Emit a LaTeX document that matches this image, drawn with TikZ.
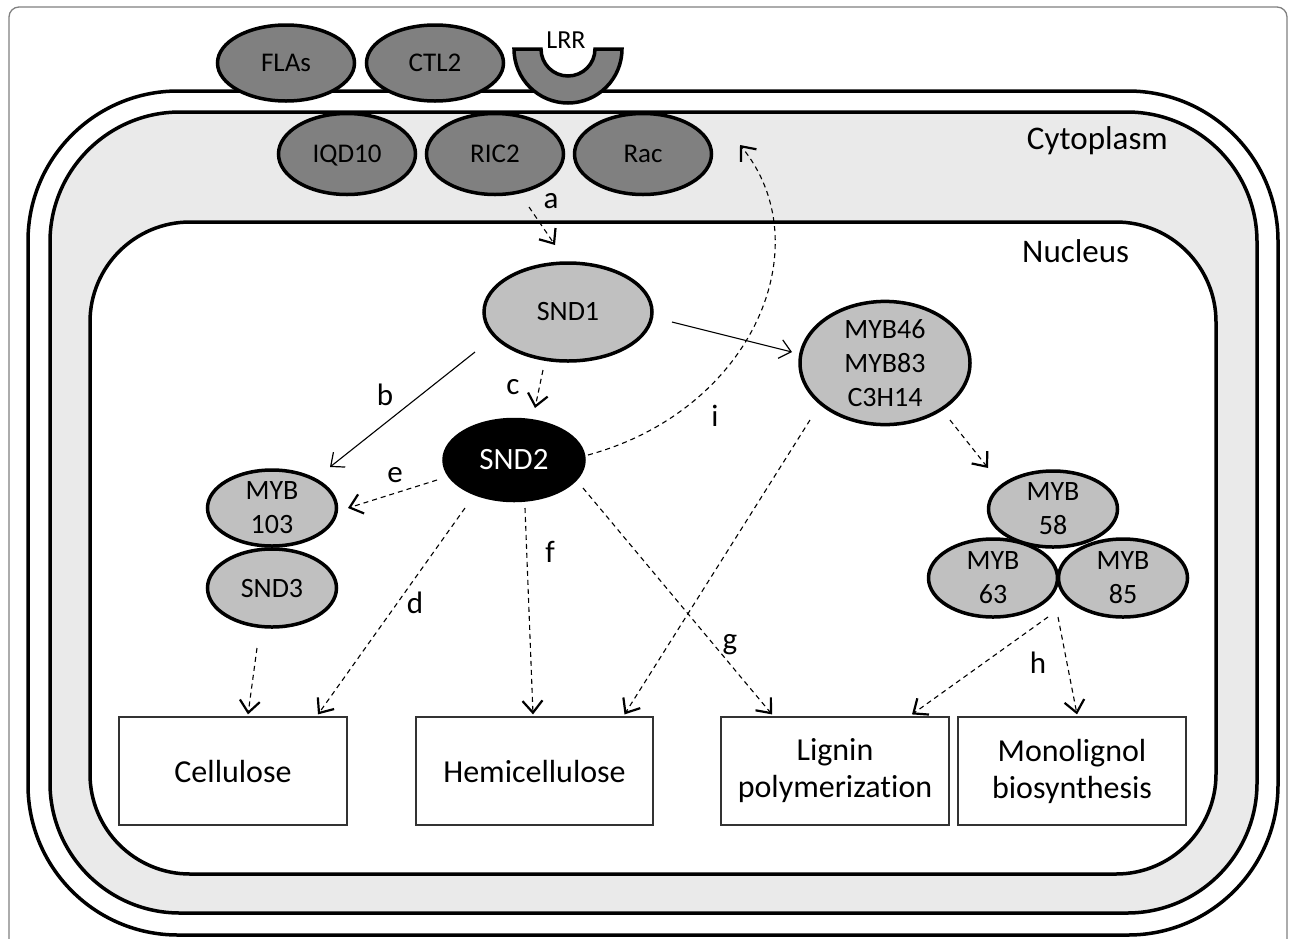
\documentclass[tikz,border=0pt]{standalone}
\usepackage{fontspec}
\setmainfont{Carlito}[Ligatures=NoCommon]
\usetikzlibrary{shapes.geometric,arrows.meta,calc}
\definecolor{darkprot}{RGB}{128,128,128}
\definecolor{lightprot}{RGB}{192,192,192}
\definecolor{cyto}{RGB}{234,234,234}
\begin{document}
\begin{tikzpicture}[x=1pt,y=-1pt,
  memprot/.style={ellipse,draw=black,line width=3.5pt,fill=darkprot,inner sep=0pt,
    minimum width=137pt,minimum height=76pt,font=\fontsize{27}{30}\selectfont},
  tfprot/.style={ellipse,draw=black,line width=3.5pt,fill=lightprot,inner sep=0pt,
    align=center,font=\fontsize{28}{34}\selectfont},
  outbox/.style={draw=black!80,line width=1.2pt,fill=white,inner sep=0pt,
    minimum width=228pt,minimum height=108pt,align=center,font=\fontsize{32}{37}\selectfont},
  dasharrow/.style={dash pattern=on 5pt off 4pt,line width=1.1pt,
    -{Straight Barb[length=12pt,width=20pt,line width=2.2pt]}},
  solidarrow/.style={line width=1.1pt,
    -{Straight Barb[length=11pt,width=19pt,line width=1.2pt]}},
  lab/.style={font=\fontsize{31}{34}\selectfont,inner sep=0pt},
  region/.style={font=\fontsize{33}{38}\selectfont,inner sep=0pt}
]
\useasboundingbox (0,0) rectangle (1290,938);
% frame
\draw[black!50,line width=1.3pt,rounded corners=10pt] (9,7) rectangle (1287,950);
% cell wall, membrane, nucleus
\draw[line width=3.5pt,fill=white,rounded corners=150pt] (28,91) rectangle (1278,935);
\draw[line width=3.5pt,fill=cyto,rounded corners=130pt] (50,112) rectangle (1257,913);
\draw[line width=3.5pt,fill=white,rounded corners=100pt] (90,222) rectangle (1216,874);

\node[region,anchor=east] (cyt) at (1168,141) {Cytoplasm};
\node[region,anchor=west] (nuc) at (1022,251) {Nucleus};

% membrane proteins
\node[memprot] (FLAs) at (286,63) {FLAs};
\node[memprot] (CTL2) at (435,63) {CTL2};
\draw[line width=3.5pt,fill=darkprot,line join=miter]
  (514,49) -- (541,49) arc[start angle=180,end angle=0,radius=27]
  -- (622,49) arc[start angle=0,end angle=180,radius=54] -- cycle;
\node[font=\fontsize{26}{30}\selectfont,inner sep=0pt] (LRR) at (566,40) {LRR};
\node[memprot,minimum height=81pt,text depth=0pt] (IQD10) at (347,154) {IQD10};
\node[memprot,minimum height=81pt] (RIC2) at (495,154) {RIC2};
\node[memprot,minimum height=81pt] (Rac) at (643,154) {Rac};

% transcription factors
\node[tfprot,minimum width=168pt,minimum height=98pt] (SND1) at (568,312) {SND1};
\node[tfprot,fill=black,text=white,minimum width=140pt,minimum height=81pt,font=\fontsize{31}{36}\selectfont] (SND2) at (514,460) {SND2};
\node[tfprot,minimum width=129pt,minimum height=76pt] (MYB103) at (272,508) {MYB\\103};
\node[tfprot,minimum width=129pt,minimum height=78pt] (SND3) at (272,588) {SND3};
\node[tfprot,minimum width=170pt,minimum height=114pt] (MYB46) at (885,363) {MYB46\\MYB83\\C3H14};
\node[tfprot,minimum width=129pt,minimum height=76pt] (MYB58) at (1053,509) {MYB\\58};
\node[tfprot,minimum width=129pt,minimum height=78pt] (MYB63) at (993,578) {MYB\\63};
\node[tfprot,minimum width=129pt,minimum height=78pt] (MYB85) at (1123,578) {MYB\\85};

% outputs
\node[outbox] (Cell) at (233,771) {Cellulose};
\node[outbox,minimum width=237pt] (Hemi) at (534.5,771) {Hemicellulose};
\node[outbox] (Lig) at (835,771) {Lignin\\polymerization};
\node[outbox] (Mono) at (1072,771) {Monolignol\\biosynthesis};

% connectors
\draw[dasharrow] ($(RIC2)+(34,53)$) -- ($(SND1)+(-13,-67)$);
\draw[solidarrow] ($(SND1)+(-93,40)$) -- ($(MYB103)+(58,-41)$);
\draw[dasharrow] ($(SND1)+(-25,58)$) -- ($(SND2)+(21,-52)$);
\draw[solidarrow] ($(SND1)+(104,10)$) -- ($(MYB46)+(-93,-11)$);
\draw[dasharrow] ($(SND2)+(-77,20)$) -- ($(MYB103)+(76,0)$);
\draw[dasharrow] ($(SND2)+(-49,48)$) -- ($(Cell.north)+(85,-2)$);
\draw[dasharrow] ($(SND3)+(-15,60)$) -- ($(Cell.north)+(15,-2)$);
\draw[dasharrow] ($(SND2)+(11,48)$) -- ($(Hemi.north)+(-1.5,-2)$);
\draw[dasharrow] ($(SND2)+(69,28)$) -- ($(Lig.north)+(-63,-2)$);
\draw[dasharrow] ($(MYB46)+(-75,57)$) -- ($(Hemi.north)+(90,-2)$);
\draw[dasharrow] ($(MYB46)+(65,57)$) -- ($(MYB58)+(-65,-41)$);
\draw[dasharrow] ($(MYB63)+(55,39)$) -- ($(Lig.north)+(77,-2)$);
\draw[dasharrow] ($(MYB85)+(-65,39)$) -- ($(Mono.north)+(5,-2)$);
\draw[dasharrow] ($(SND2)+(74,-5)$) .. controls +(165,-45) and +(82,100) .. ($(Rac)+(97,-9)$);

% labels
\node[lab] (la) at (551,201) {a};
\node[lab] (lb) at (385,395) {b};
\node[lab] (lc) at (513,387) {c};
\node[lab] (ld) at (415,603) {d};
\node[lab] (le) at (395,475) {e};
\node[lab] (lf) at (550,552) {f};
\node[lab] (lg) at (730,645) {g};
\node[lab] (lh) at (1038,663) {h};
\node[lab] (li) at (715,416) {i};
\end{tikzpicture}
\end{document}
